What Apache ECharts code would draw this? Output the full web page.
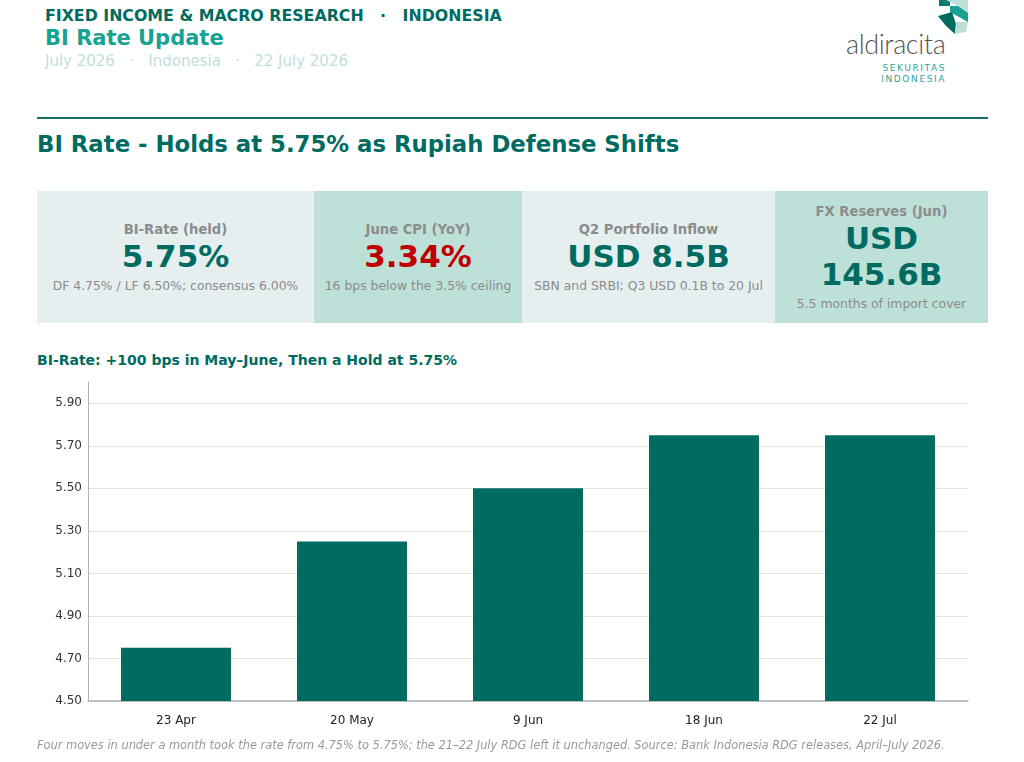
<!DOCTYPE html>
<html>
<head>
<meta charset="utf-8">
<script src="https://cdn.jsdelivr.net/npm/echarts@6/dist/echarts.min.js"></script>
<style>
  html, body { margin: 0; padding: 0; background: #fff; }
  body { width: 1024px; height: 762px; position: relative; overflow: hidden; font-family: "DejaVu Sans", sans-serif; }
  .abs { position: absolute; white-space: pre; }
  .kicker { left: 45px; top: 6px; font-size: 15.8px; font-weight: bold; color: #006b60; }
  .report { left: 45px; top: 26px; font-size: 21px; font-weight: bold; color: #17a292; }
  .meta { left: 45px; top: 52px; font-size: 15px; color: #bfe0da; }
  .rule { left: 37px; top: 117px; width: 951px; height: 2px; background: #1a6e66; }
  .title { left: 37px; top: 131px; font-size: 22.8px; font-weight: bold; color: #006b60; }
  .card { position: absolute; top: 191px; height: 132px; display: flex; flex-direction: column; align-items: center; justify-content: center; text-align: center; }
  .card .lbl { font-size: 13.2px; font-weight: bold; color: #8c8c8c; }
  .card .val { font-size: 31px; font-weight: bold; color: #006b60; line-height: 36px; margin-top: 1px; }
  .card .sub { font-size: 12.4px; color: #8c8c8c; margin-top: 4px; }
  .light { background: #e6efef; }
  .mint { background: #bde0d9; }
  .chartTitle { left: 37px; top: 352px; font-size: 14px; font-weight: bold; color: #006b60; }
  .note { left: 37px; top: 738px; font-size: 11.4px; font-style: italic; color: #999; }
  .logo { left: 846px; top: 27px; font-family: Lato, "Noto Sans", sans-serif; font-weight: 300; font-size: 27px; color: #555; letter-spacing: -0.4px; }
  .sek { right: 78px; font-size: 9px; color: #2aa595; letter-spacing: 1.6px; }
  #chart { position: absolute; left: 0; top: 370px; width: 1024px; height: 370px; }
</style>
</head>
<body>
<div class="abs kicker">FIXED INCOME &amp; MACRO RESEARCH   ·   INDONESIA</div>
<div class="abs report">BI Rate Update</div>
<div class="abs meta">July 2026   ·   Indonesia   ·   22 July 2026</div>

<svg class="abs" style="left:936px;top:0px" width="34" height="36" viewBox="0 0 34 36">
  <polygon points="3,0 14,0 14,6 3,6" fill="#0b7a6e"/>
  <polygon points="10,0 32,0 32,13 22,6" fill="#bfe0da"/>
  <polygon points="14,6 22,6 32,13 32,22 14,12" fill="#17a292"/>
  <polygon points="2,16 16,12 20,24 19,34 10,26" fill="#006b60"/>
  <polygon points="20,22 32,22 30,32 19,34" fill="#bfe0da"/>
</svg>
<div class="abs logo">aldiracita</div>
<div class="abs sek" style="top:63px">SEKURITAS</div>
<div class="abs sek" style="top:74px">INDONESIA</div>

<div class="abs rule"></div>
<div class="abs title">BI Rate - Holds at 5.75% as Rupiah Defense Shifts</div>

<div class="card light" style="left:37px;width:277px">
  <div class="lbl">BI-Rate (held)</div>
  <div class="val">5.75%</div>
  <div class="sub">DF 4.75% / LF 6.50%; consensus 6.00%</div>
</div>
<div class="card mint" style="left:314px;width:208px">
  <div class="lbl">June CPI (YoY)</div>
  <div class="val" style="color:#c00000">3.34%</div>
  <div class="sub">16 bps below the 3.5% ceiling</div>
</div>
<div class="card light" style="left:522px;width:253px">
  <div class="lbl">Q2 Portfolio Inflow</div>
  <div class="val">USD 8.5B</div>
  <div class="sub">SBN and SRBI; Q3 USD 0.1B to 20 Jul</div>
</div>
<div class="card mint" style="left:775px;width:213px">
  <div class="lbl">FX Reserves (Jun)</div>
  <div class="val">USD<br>145.6B</div>
  <div class="sub">5.5 months of import cover</div>
</div>

<div class="abs chartTitle">BI-Rate: +100 bps in May–June, Then a Hold at 5.75%</div>
<div id="chart"></div>
<div class="abs note">Four moves in under a month took the rate from 4.75% to 5.75%; the 21–22 July RDG left it unchanged. Source: Bank Indonesia RDG releases, April–July 2026.</div>

<script>
// RDG meeting dates and BI-Rate after each decision (%)
const meetings = ['23 Apr', '20 May', '9 Jun', '18 Jun', '22 Jul']
const biRate = [4.75, 5.25, 5.50, 5.75, 5.75]

const yMin = 4.5
const yMax = 6.0
const yStep = 0.2

const chart = echarts.init(document.getElementById('chart'))

const option = {
  animation: false,
  textStyle: { fontFamily: 'DejaVu Sans' },
  grid: { left: 88, right: 56, top: 12, bottom: 39 },
  xAxis: {
    type: 'category',
    data: meetings,
    axisLine: { lineStyle: { color: '#b0b0b0', width: 1.5 } },
    axisTick: { show: false },
    axisLabel: { color: '#222', fontSize: 12, margin: 14 }
  },
  yAxis: {
    type: 'value',
    min: yMin,
    max: yMax,
    interval: yStep,
    axisLine: { show: true, lineStyle: { color: '#b0b0b0', width: 1 } },
    axisTick: { show: false },
    axisLabel: {
      color: '#333',
      fontSize: 12,
      margin: 6,
      showMaxLabel: false,
      formatter: v => v.toFixed(2)
    },
    splitLine: { show: true, showMaxLine: false, lineStyle: { color: '#e3e3e3' } }
  },
  series: [
    {
      type: 'bar',
      data: biRate,
      barWidth: '62.5%',
      itemStyle: { color: '#006b60' }
    }
  ]
}

chart.setOption(option)
</script>
</body>
</html>
